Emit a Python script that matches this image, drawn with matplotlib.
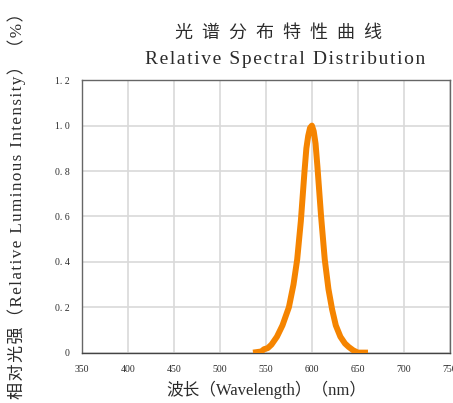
import matplotlib
matplotlib.use('Agg')
import matplotlib.pyplot as plt
from matplotlib.ticker import FixedLocator, FixedFormatter

# spectrum
wavelength = [536, 545, 548, 552, 556, 562, 568, 575, 580, 584, 588, 592, 594, 596, 598, 600,
              602, 604, 606, 610, 614, 618, 622, 626, 631, 636, 640, 645, 650, 655, 661]
intensity = [0.0, 0.005, 0.015, 0.02, 0.035, 0.07, 0.12, 0.2, 0.3, 0.41, 0.58, 0.8, 0.9, 0.955, 0.99, 1.0,
             0.975, 0.92, 0.82, 0.6, 0.41, 0.28, 0.19, 0.12, 0.07, 0.04, 0.025, 0.01, 0.0, 0.0, 0.0]

x_ticks = [350, 400, 450, 500, 550, 600, 650, 700, 750]
y_ticks = [0, 0.2, 0.4, 0.6, 0.8, 1.0, 1.2]
y_tick_labels = ['0', '0. 2', '0. 4', '0. 6', '0. 8', '1. 0', '1. 2']

title_cn = '光谱分布特性曲线'
title_en = 'Relative Spectral Distribution'
xlabel = '波长（Wavelength）（nm）'
ylabel = '相对光强（Relative Luminous Intensity）（%）'

fonts = ['Liberation Serif', 'Noto Sans CJK SC', 'DejaVu Sans']
text_col = '#2b2b2b'


def spread(s):
    # a little letter spacing, like the original artwork
    return '\u200a'.join(s)


fig = plt.figure(figsize=(4.53, 4.03), dpi=100)
ax = fig.add_axes([0.181, 0.125, 0.812, 0.676])

ax.plot(wavelength, intensity, color='#F58400', lw=4.3,
        solid_capstyle='butt', solid_joinstyle='round', zorder=3)

ax.set_xlim(350, 750)
ax.set_ylim(0, 1.2)
ax.xaxis.set_major_locator(FixedLocator(x_ticks))
ax.yaxis.set_major_locator(FixedLocator(y_ticks))
ax.yaxis.set_major_formatter(FixedFormatter(y_tick_labels))
ax.grid(True, color='#d9d9d9', lw=1.2)
ax.set_axisbelow(True)
ax.tick_params(length=0, labelsize=7, colors=text_col)
ax.tick_params(axis='x', pad=9)
ax.tick_params(axis='y', pad=9)
for lab in ax.get_xticklabels() + ax.get_yticklabels():
    lab.set_family(fonts)
for s in ax.spines.values():
    s.set_color('#666666')
    s.set_linewidth(1.0)
ax.spines['bottom'].set_color('#444444')

fig.text(0.615, 0.918, '  '.join(title_cn), ha='center', va='center',
         fontsize=13, family=fonts, color=text_col)
fig.text(0.63, 0.852, spread(title_en), ha='center', va='center',
         fontsize=14, family=fonts, color=text_col)
fig.text(0.588, 0.032, xlabel, ha='center', va='center',
         fontsize=12, family=fonts, color=text_col)
fig.text(0.036, 0.5, spread(ylabel), ha='center', va='center', rotation=90,
         fontsize=12.3, family=fonts, color=text_col)

fig.savefig('out.png', dpi=100)
